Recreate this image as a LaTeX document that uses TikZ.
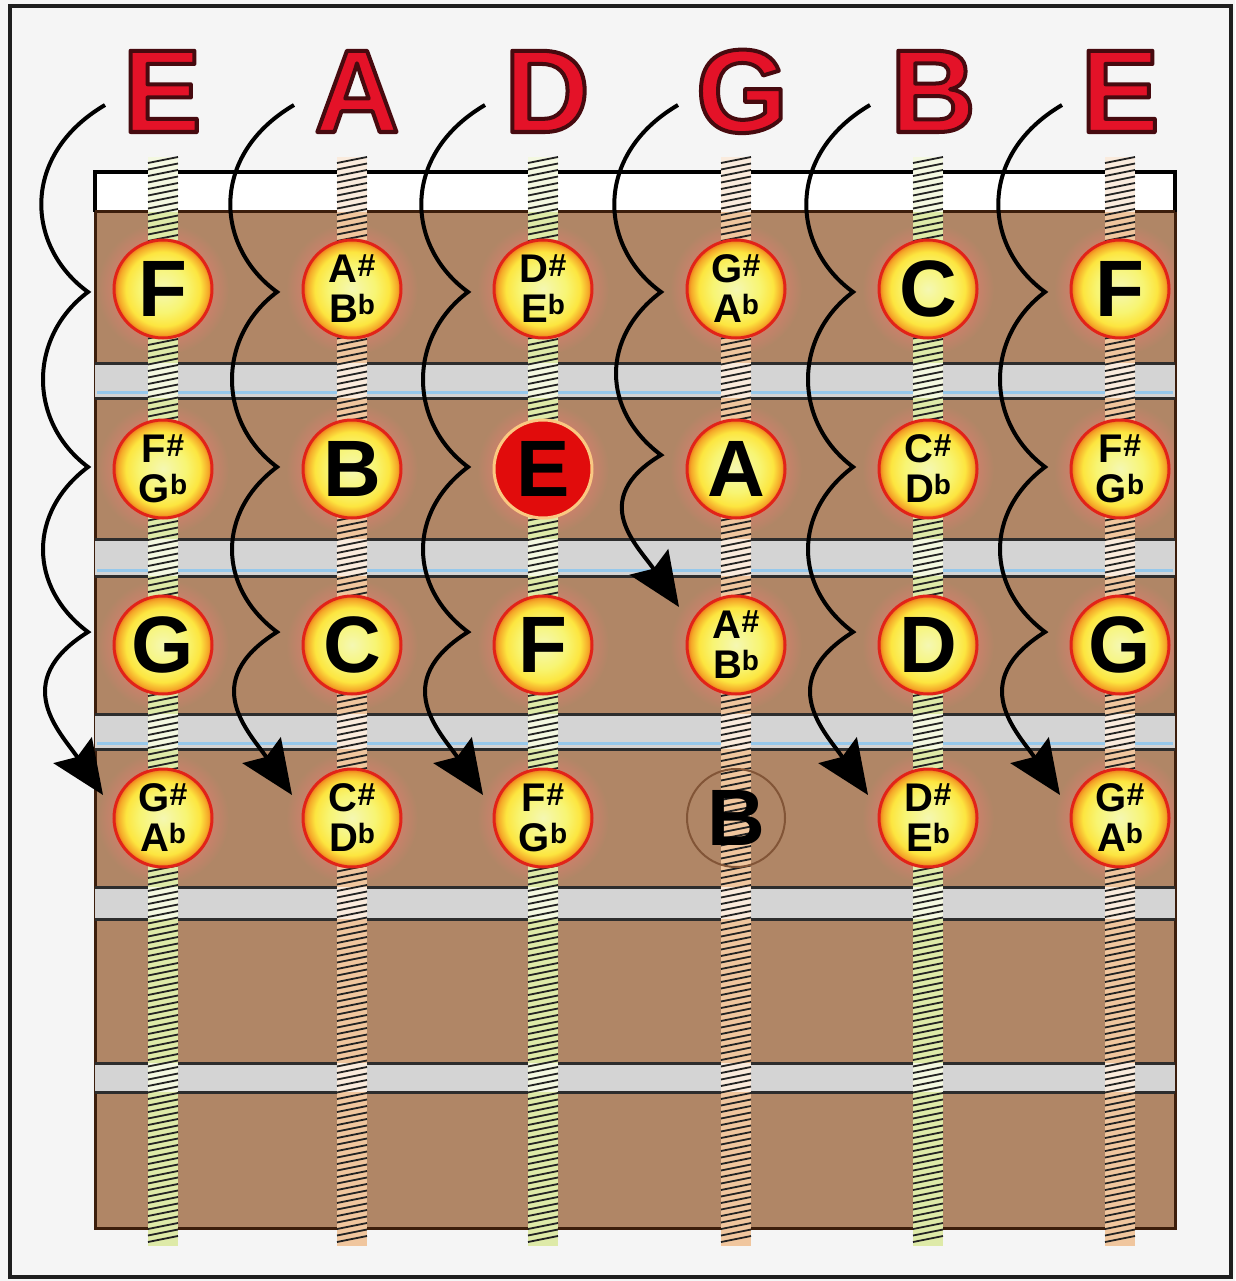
\documentclass[tikz,border=0pt]{standalone}
\usepackage{fontspec}
\setmainfont{Liberation Sans}
\usetikzlibrary{arrows.meta}
\definecolor{bg}{RGB}{245,245,245}
\definecolor{wood}{RGB}{176,134,102}
\definecolor{wooddark}{RGB}{60,30,12}
\definecolor{fretgray}{RGB}{212,212,212}
\definecolor{fretline}{RGB}{45,45,45}
\definecolor{fretblue}{RGB}{150,200,235}
\definecolor{strgreen}{RGB}{222,234,168}
\definecolor{strpeach}{RGB}{240,198,158}
\definecolor{coilline}{RGB}{35,35,35}
\definecolor{notered}{RGB}{225,35,25}
\definecolor{hdrred}{RGB}{228,18,40}
\definecolor{salmon}{RGB}{208,128,108}
\definecolor{redfill}{RGB}{225,12,12}
\definecolor{ringpeach}{RGB}{250,200,130}
\definecolor{faintring}{RGB}{130,85,55}
\definecolor{frame}{RGB}{30,30,30}
\pgfdeclareradialshading{notesh}{\pgfpoint{0bp}{0bp}}{rgb(0bp)=(0.96,0.97,0.70); rgb(12bp)=(0.97,0.96,0.45); rgb(19bp)=(0.99,0.90,0.25); rgb(23bp)=(0.96,0.66,0.16); rgb(25bp)=(0.93,0.45,0.10); rgb(50bp)=(0.93,0.45,0.10)}
\pgfdeclareradialshading{halo}{\pgfpoint{0bp}{0bp}}{color(0bp)=(salmon); color(17bp)=(salmon); color(25bp)=(wood); color(50bp)=(wood)}
\newcommand\shp{\raisebox{6pt}{\fontsize{32}{32}\selectfont\#}}
\newcommand\flt{\raisebox{8.5pt}{\fontsize{28}{28}\selectfont b}}
\newcommand\twonote[2]{#1\shp\\#2\flt}
% red letters with a dark stroked outline (PDF text render mode 2)
\newcommand\hdrtext[1]{\textcolor{hdrred}{\special{pdf:literal direct 1 j 4 w 0.28 0.04 0.06 RG 2 Tr}#1\special{pdf:literal direct 0 Tr 0.4 w}}}
\tikzset{
  note/.style={circle, minimum size=98pt, inner sep=0pt, shade, shading=notesh,
    draw=notered, line width=3pt, text=black, font=\bfseries\fontsize{80}{80}\selectfont},
  twonote/.style={note, font=\bfseries\fontsize{40}{40}\selectfont, align=center},
  rednote/.style={circle, minimum size=98pt, inner sep=0pt, fill=redfill,
    draw=ringpeach, line width=3pt, text=black, font=\bfseries\fontsize{80}{80}\selectfont},
  faintnote/.style={circle, minimum size=98pt, inner sep=0pt,
    draw=faintring, line width=2pt, text=black, font=\bfseries\fontsize{80}{80}\selectfont},
  header/.style={anchor=base, inner sep=0pt, font=\bfseries\fontsize{118}{118}\selectfont},
  coil/.style={draw=coilline, line width=1.8pt},
  arr/.style={draw=black, line width=4pt, -{Stealth[length=54pt,width=46pt,inset=8pt]}},
}
\begin{document}
\begin{tikzpicture}[x=1pt,y=-1pt]
\useasboundingbox (0,0) rectangle (1235,1281);
% background and frame
\fill[bg] (0,0) rectangle (1235,1281);
\draw[frame, line width=3.5pt] (10,6) rectangle (1231,1277);
% fretboard
\fill[wood] (95,212) rectangle (1175,1228);
% halos round the note circles
\begin{scope}
\clip (95,212) rectangle (1175,1228);
\foreach \x in {163,352,543,736,928,1120}{
  \foreach \y in {289,469,645}{
    \shade[shading=halo] (\x,\y) circle (66);
  }
}
\foreach \x in {163,352,543,928,1120}{
  \shade[shading=halo] (\x,818) circle (66);
}
\end{scope}
\draw[wooddark, line width=3pt] (95,212) rectangle (1175,1228);
% nut
\fill[white] (95,172) rectangle (1175,212);
\draw[black, line width=3.5pt] (95,212) -- (95,172) -- (1175,172) -- (1175,212);
\draw[wooddark, line width=3pt] (95,212) -- (1175,212);
% frets
\foreach \a/\b in {363/398,539/576,714/749,887/919,1063/1092}{
  \fill[fretgray] (95,\a) rectangle (1175,\b);
  \draw[fretline, line width=3pt] (95,\a) -- (1175,\a);
  \draw[fretline, line width=3pt] (95,\b) -- (1175,\b);
}
\foreach \b in {398,576,749}{
  \draw[fretblue, line width=3pt] (97,\b-6) -- (1173,\b-6);
}
% strings
\foreach \cx/\col in {163/strgreen,352/strpeach,543/strgreen,736/strpeach,928/strgreen,1120/strpeach}{
  \fill[\col] (\cx-15,157) rectangle (\cx+15,1246);
  \foreach \a/\b in {157/212,363/398,539/576,714/749,887/919,1063/1092}{
    \fill[\col!35!white] (\cx-15,\a) rectangle (\cx+15,\b);
  }
  \draw[coil] \foreach \y in {160,166.5,...,1244} {(\cx-15,\y+3) -- (\cx+15,\y-3)};
}
% headers
\node[header] (h1) at (162,132) {\hdrtext{E}};
\node[header] (h2) at (357,132) {\hdrtext{A}};
\node[header] (h3) at (547,132) {\hdrtext{D}};
\node[header] (h4) at (742,132) {\hdrtext{G}};
\node[header] (h5) at (933,132) {\hdrtext{B}};
\node[header] (h6) at (1120,132) {\hdrtext{E}};
% row 1
\node[note] (n11) at (163,289) {F};
\node[twonote] (n21) at (352,289) {\twonote{A}{B}};
\node[twonote] (n31) at (543,289) {\twonote{D}{E}};
\node[twonote] (n41) at (736,289) {\twonote{G}{A}};
\node[note] (n51) at (928,289) {C};
\node[note] (n61) at (1120,289) {F};
% row 2
\node[twonote] (n12) at (163,469) {\twonote{F}{G}};
\node[note] (n22) at (352,469) {B};
\node[rednote] (n32) at (543,469) {E};
\node[note] (n42) at (736,469) {A};
\node[twonote] (n52) at (928,469) {\twonote{C}{D}};
\node[twonote] (n62) at (1120,469) {\twonote{F}{G}};
% row 3
\node[note] (n13) at (163,645) {G};
\node[note] (n23) at (352,645) {C};
\node[note] (n33) at (543,645) {F};
\node[twonote] (n43) at (736,645) {\twonote{A}{B}};
\node[note] (n53) at (928,645) {D};
\node[note] (n63) at (1120,645) {G};
% row 4
\node[twonote] (n14) at (163,818) {\twonote{G}{A}};
\node[twonote] (n24) at (352,818) {\twonote{C}{D}};
\node[twonote] (n34) at (543,818) {\twonote{F}{G}};
\node[faintnote] (n44) at (736,818) {B};
\node[twonote] (n54) at (928,818) {\twonote{D}{E}};
\node[twonote] (n64) at (1120,818) {\twonote{G}{A}};
% arrows
\foreach \s/\cx in {1/163,2/352,3/543,5/928,6/1120}{
  \coordinate (a\s0) at (\cx-58,105);
  \coordinate (a\s1) at (\cx-75,292);
  \coordinate (a\s2) at (\cx-75,467);
  \coordinate (a\s3) at (\cx-75,632);
  \coordinate (t\s) at (\cx-60,795);
  \draw[arr] (a\s0) .. controls +(-85,50) and +(-62,-45) .. (a\s1)
    .. controls +(-60,45) and +(-60,-45) .. (a\s2)
    .. controls +(-60,45) and +(-60,-45) .. (a\s3)
    .. controls +(-80,50) and +(-42,-62) .. (t\s);
}
\coordinate (a40) at (678,105);
\coordinate (a41) at (661,292);
\coordinate (a42) at (661,455);
\coordinate (t4) at (679,607);
\draw[arr] (a40) .. controls +(-85,50) and +(-62,-45) .. (a41)
  .. controls +(-60,45) and +(-60,-45) .. (a42)
  .. controls +(-75,45) and +(-40,-60) .. (t4);
\end{tikzpicture}
\end{document}
